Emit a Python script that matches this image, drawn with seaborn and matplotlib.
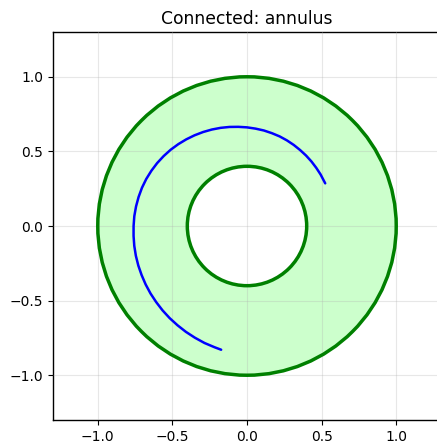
import numpy as np
import pandas as pd
import seaborn as sns
import matplotlib.pyplot as plt
from matplotlib.patches import Wedge, Circle

# annulus radii
outer_radius = 1.0
inner_radius = 0.4

# path inside the annulus (angle in degrees, radius)
path_angle = [28.6, 35, 40, 45, 50, 55, 60, 65, 70, 75, 80, 85, 90, 95, 100,
              105, 110, 115, 120, 125, 130, 135, 140, 145, 150, 155, 160, 165,
              170, 175, 180, 185, 190, 195, 200, 205, 210, 215, 220, 225, 230,
              235, 240, 245, 250, 255, 258.2]
path_radius = [0.597, 0.602, 0.606, 0.611, 0.616, 0.621, 0.627, 0.633, 0.639,
               0.644, 0.650, 0.655, 0.661, 0.667, 0.674, 0.681, 0.688, 0.695,
               0.702, 0.709, 0.716, 0.723, 0.729, 0.735, 0.740, 0.745, 0.749,
               0.752, 0.755, 0.758, 0.760, 0.763, 0.767, 0.771, 0.775, 0.779,
               0.784, 0.789, 0.794, 0.800, 0.806, 0.812, 0.819, 0.826, 0.834,
               0.841, 0.847]

sns.set_style("ticks")
plt.rcParams['font.family'] = ['DejaVu Sans']
plt.rcParams['text.color'] = 'black'

fig = plt.figure(figsize=(4.37, 4.45), dpi=100)
ax = fig.add_axes([53 / 437, 25 / 445, 388 / 437, 388 / 445])

# filled ring
ring = Wedge((0, 0), outer_radius, 0, 360, width=outer_radius - inner_radius,
             facecolor='#ccffcc', edgecolor='none', zorder=1)
ax.add_patch(ring)
for r in [outer_radius, inner_radius]:
    ax.add_patch(Circle((0, 0), r, fill=False, edgecolor='green', linewidth=2.5, zorder=3))

theta = np.deg2rad(path_angle)
df = pd.DataFrame({
    'x': np.array(path_radius) * np.cos(theta),
    'y': np.array(path_radius) * np.sin(theta),
})
sns.lineplot(data=df, x='x', y='y', sort=False, estimator=None, color='blue',
             linewidth=1.8, ax=ax, zorder=4, solid_joinstyle='round')

ax.set_xlim(-1.3, 1.3)
ax.set_ylim(-1.3, 1.3)
ax.set_aspect('equal')
ax.set_xticks([-1.0, -0.5, 0.0, 0.5, 1.0])
ax.set_yticks([-1.0, -0.5, 0.0, 0.5, 1.0])
ax.set_xlabel('')
ax.set_ylabel('')
ax.set_axisbelow(False)
ax.grid(True, color='#b0b0b0', alpha=0.3, linewidth=0.8, zorder=2)
ax.tick_params(labelsize=10, colors='black', direction='out', length=3.5, width=0.8)
for s in ax.spines.values():
    s.set_color('black')
    s.set_linewidth(1.0)
ax.set_title('Connected: annulus', fontsize=12.3, color='black')

fig.savefig('out.png', dpi=100)
